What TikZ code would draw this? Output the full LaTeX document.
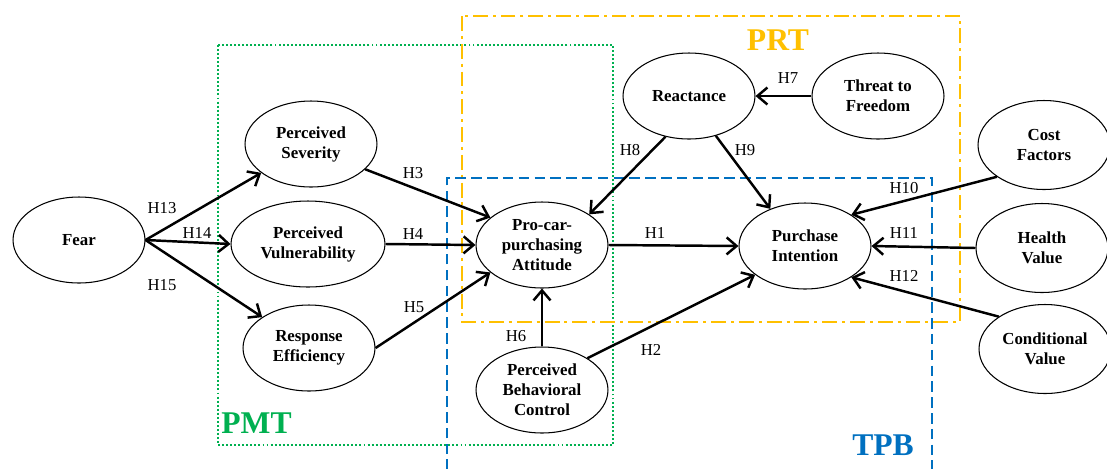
\documentclass[tikz,border=0pt]{standalone}
\usepackage{fontspec}
\setmainfont{Liberation Serif}
\usetikzlibrary{shapes.geometric,arrows.meta}
\definecolor{pmtgreen}{HTML}{00B050}
\definecolor{prtorange}{HTML}{FFC000}
\definecolor{tpbblue}{HTML}{0070C0}
\begin{document}
\begin{tikzpicture}[x=0.02cm,y=-0.02cm,
  construct/.style={ellipse,draw,line width=0.6pt,fill=white,inner sep=0pt,
    minimum width=2.64cm,minimum height=1.72cm,align=center,
    font=\fontsize{9.6}{11.4}\selectfont\bfseries},
  hyp/.style={-{Straight Barb[length=2mm,width=3.4mm]},line width=1.4pt},
  hlab/.style={font=\fontsize{9.5}{11}\selectfont,inner sep=0pt},
  theory/.style={font=\fontsize{18}{20}\selectfont\bfseries,inner sep=0pt}]
\useasboundingbox (0,0) rectangle (1107,468);
% theory boxes
\draw[pmtgreen,line width=1.1pt,dash pattern=on 1.1pt off 1.2pt] (218,45) rectangle (613,445);
\draw[prtorange,line width=1.5pt,dash pattern=on 8.5pt off 2.8pt on 1.7pt off 2.8pt] (462,16) rectangle (960,322);
\draw[tpbblue,line width=1.1pt,dash pattern=on 6pt off 3pt] (447,470) -- (447,178) -- (932,178) -- (932,470);
\node[theory,text=pmtgreen,anchor=west] (pmt) at (221,423) {PMT};
\node[theory,text=prtorange] (prt) at (778,40) {PRT};
\node[theory,text=tpbblue] (tpb) at (883,445) {TPB};
% constructs
\node[construct] (fear) at (79,240) {Fear};
\node[construct] (sev) at (311,144) {Perceived\\Severity};
\node[construct,minimum width=3.08cm] (vul) at (308,244) {Perceived\\Vulnerability};
\node[construct] (eff) at (309,348) {Response\\Efficiency};
\node[construct] (att) at (542,245) {Pro-car-\\purchasing\\Attitude};
\node[construct] (pbc) at (542,390) {Perceived\\Behavioral\\Control};
\node[construct] (pi) at (805,246) {Purchase\\Intention};
\node[construct] (re) at (689,96) {Reactance};
\node[construct] (tf) at (878,96) {Threat to\\Freedom};
\node[construct,minimum height=1.78cm] (cf) at (1044,145) {Cost\\Factors};
\node[construct,minimum height=1.78cm] (hv) at (1042,248) {Health\\Value};
\node[construct,minimum height=1.78cm] (cv) at (1045,349) {Conditional\\Value};
% hypotheses
\draw[hyp] (fear.east) -- (sev);
\draw[hyp] (fear.east) -- (vul.west);
\draw[hyp] (fear.east) -- (eff);
\draw[hyp] (sev.-25) -- (att.152);
\draw[hyp] (vul.east) -- (att.west);
\draw[hyp] (eff.east) -- (att.208);
\draw[hyp] (pbc.north) -- (att.south);
\draw[hyp] (pbc.35) -- (pi.210);
\draw[hyp] (att.east) -- (pi.west);
\draw[hyp] (re.240) -- (att.33);
\draw[hyp] (re.304) -- (pi.133);
\draw[hyp] (tf.west) -- (re.east);
\draw[hyp] (cf.214) -- (pi.34);
\draw[hyp] (hv.west) -- (pi.east);
\draw[hyp] (cv.145) -- (pi.326);
% labels
\node[hlab] (h13) at (162,208) {H13};
\node[hlab] (h14) at (197,233) {H14};
\node[hlab] (h15) at (162,285) {H15};
\node[hlab] (h3) at (413,173) {H3};
\node[hlab] (h4) at (413,234) {H4};
\node[hlab] (h5) at (414,307) {H5};
\node[hlab] (h6) at (516,336) {H6};
\node[hlab] (h2) at (651,350) {H2};
\node[hlab] (h1) at (655,233) {H1};
\node[hlab] (h8) at (630,150) {H8};
\node[hlab] (h9) at (745,150) {H9};
\node[hlab] (h7) at (788,78) {H7};
\node[hlab] (h10) at (904,188) {H10};
\node[hlab] (h11) at (904,233) {H11};
\node[hlab] (h12) at (904,276) {H12};
\end{tikzpicture}
\end{document}
